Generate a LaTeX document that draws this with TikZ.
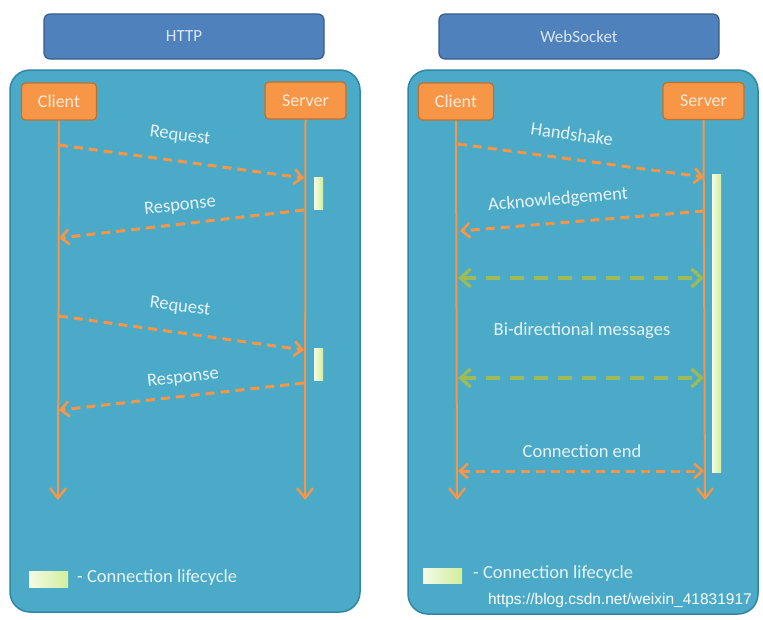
\documentclass[tikz,border=0pt]{standalone}
\usepackage{fontspec}
\setmainfont{Carlito}
\newfontfamily\wmfont{Liberation Sans}
\usetikzlibrary{arrows.meta}
\definecolor{panelF}{HTML}{4BAAC8}
\definecolor{panelD}{HTML}{2F87A6}
\definecolor{headF}{HTML}{4F81BD}
\definecolor{headD}{HTML}{385D8A}
\definecolor{headT}{HTML}{DCE6F2}
\definecolor{orF}{HTML}{F79646}
\definecolor{orD}{HTML}{C0702F}
\definecolor{orT}{HTML}{FDEADA}
\definecolor{lblT}{HTML}{E8F4F8}
\definecolor{grn}{HTML}{9BBB59}
\definecolor{barL}{HTML}{F4FBE4}
\definecolor{barR}{HTML}{D2EE9C}
\begin{document}
\begin{tikzpicture}[x=1pt,y=-1pt,
  fnt/.style={font=\fontsize{18.5}{22}\selectfont},
  header/.style={draw=headD, fill=headF, line width=1.2pt, rounded corners=6pt,
    minimum width=280pt, minimum height=45pt, text=headT, font=\fontsize{17}{20}\selectfont},
  panel/.style={draw=panelD, fill=panelF, line width=1.5pt, rounded corners=20pt,
    minimum width=350pt, inner sep=0pt},
  actor/.style={draw=orD, fill=orF, line width=1.2pt, rounded corners=4pt,
    minimum height=37pt, text=orT, font=\fontsize{18}{21}\selectfont, inner sep=0pt},
  lbl/.style={text=lblT, fnt, inner sep=1pt},
  life/.style={draw=orF, line width=2pt, -{Straight Barb[length=10pt,width=16pt,line width=2.4pt]}},
  msg/.style={draw=orF, line width=3pt, dash pattern=on 9pt off 6pt,
    -{Straight Barb[length=8pt,width=15pt,line width=2.6pt]}},
  bimsg/.style={draw=orF, line width=3pt, dash pattern=on 9pt off 6pt,
    {Straight Barb[length=8pt,width=15pt,line width=2.6pt]}-{Straight Barb[length=8pt,width=15pt,line width=2.6pt]}},
  grmsg/.style={draw=grn, line width=4pt, dash pattern=on 14pt off 10pt,
    {Straight Barb[length=10pt,width=18pt,line width=3.4pt]}-{Straight Barb[length=10pt,width=18pt,line width=3.4pt]}},
  bar/.style={left color=barL, right color=barR, draw=none, minimum width=9pt, inner sep=0pt},
]
\useasboundingbox (0,0) rectangle (763,619);
\fill[white] (0,0) rectangle (763,619);

% ---------- HTTP ----------
\node[header] (hh) at (184,36.5) {HTTP};
\node[panel, minimum height=542pt] (hp) at (185,341) {};
\node[actor, minimum width=75pt] (hc) at (59,101.5) {Client};
\node[actor, minimum width=81pt] (hs) at (305.5,100.5) {Server};
\coordinate (hce) at (58,500);
\coordinate (hse) at (305,500);
\draw[life] (hc.south) -- (hce);
\draw[life] (hs.south) -- (hse);

\coordinate (h1a) at (59,145);  \coordinate (h1b) at (304,178);
\coordinate (h2a) at (304,210); \coordinate (h2b) at (59,238);
\coordinate (h3a) at (59,316);  \coordinate (h3b) at (304,350);
\coordinate (h4a) at (304,383); \coordinate (h4b) at (59,410);
\draw[msg] (h1a) -- (h1b);
\draw[msg] (h2a) -- (h2b);
\draw[msg] (h3a) -- (h3b);
\draw[msg] (h4a) -- (h4b);
\node[lbl, rotate=-7] (hl1) at (180,136) {Request};
\node[lbl, rotate=6] (hl2) at (180,206) {Response};
\node[lbl, rotate=-7] (hl3) at (180,307) {Request};
\node[lbl, rotate=6] (hl4) at (183,378) {Response};
\node[bar, minimum height=32pt] (hb1) at (318.5,193) {};
\node[bar, minimum height=32pt] (hb2) at (318.5,364) {};

\node[bar, minimum width=39pt, minimum height=16pt] (hlg) at (48.5,579) {};
\node[lbl, anchor=west] (hlgt) at (76,578) {- Connection lifecycle};

% ---------- WebSocket ----------
\node[header] (wh) at (579,36.5) {WebSocket};
\node[panel, minimum height=544pt] (wp) at (583,342) {};
\node[actor, minimum width=75pt] (wc) at (456,101.5) {Client};
\node[actor, minimum width=81pt] (ws) at (703.5,101) {Server};
\coordinate (wce) at (457,500);
\coordinate (wse) at (705,500);
\draw[life] (wc.south) -- (wce);
\draw[life] (ws.south) -- (wse);

\node[bar, minimum height=298pt] (wb) at (716.5,323) {};

\coordinate (w1a) at (458,144);  \coordinate (w1b) at (704,177);
\coordinate (w2a) at (704,211);  \coordinate (w2b) at (460,231);
\draw[msg] (w1a) -- (w1b);
\draw[msg] (w2a) -- (w2b);
\node[lbl, rotate=-8] (wl1) at (572,134) {Handshake};
\node[lbl, rotate=5] (wl2) at (558,200) {Acknowledgement};

\coordinate (g1a) at (458,278); \coordinate (g1b) at (704,278);
\coordinate (g2a) at (458,378); \coordinate (g2b) at (704,378);
\draw[grmsg] (g1a) -- (g1b);
\draw[grmsg] (g2a) -- (g2b);
\node[lbl] (wl3) at (582,331) {Bi-directional messages};

\coordinate (e1a) at (458,471); \coordinate (e1b) at (704,471);
\draw[bimsg] (e1a) -- (e1b);
\node[lbl] (wl4) at (582,451) {Connection end};

\node[bar, minimum width=39pt, minimum height=15pt] (wlg) at (442.5,575.5) {};
\node[lbl, anchor=west] (wlgt) at (472,574) {- Connection lifecycle};

\node[text=white, font=\wmfont\fontsize{15.5}{18}\selectfont, anchor=east, inner sep=0pt] (wm) at (752,600) {https://blog.csdn.net/weixin\_41831917};
\end{tikzpicture}
\end{document}
